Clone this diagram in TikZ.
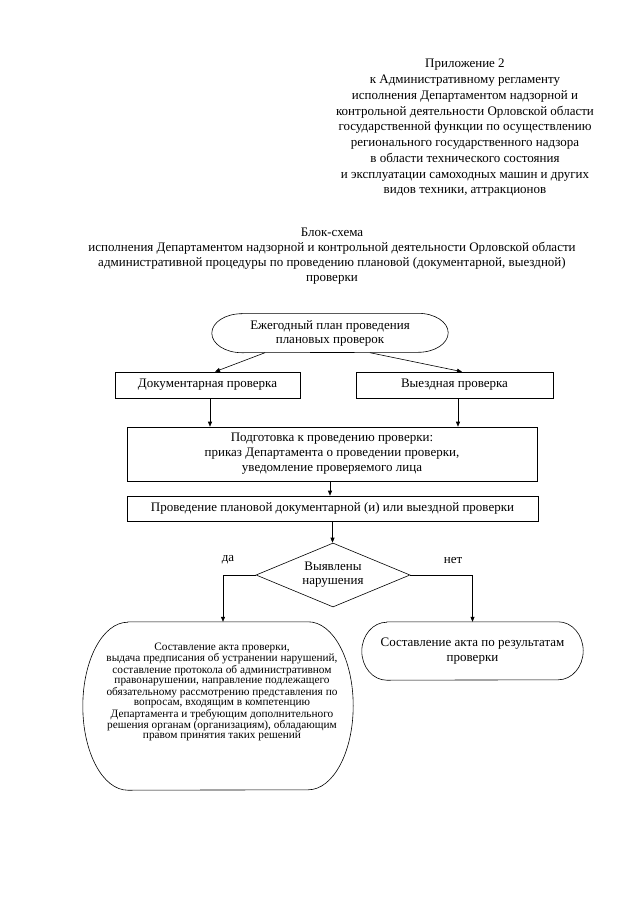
\documentclass[tikz,border=0pt]{standalone}
\usepackage{fontspec}
\setmainfont{Liberation Serif}
\usetikzlibrary{arrows.meta,shapes.geometric,calc}
\begin{document}
\begin{tikzpicture}[x=1pt,y=-1pt,
  lw/.style={line width=0.6pt},
  box/.style={draw, lw, inner sep=0pt, align=center, font=\fontsize{13}{15}\selectfont},
  plain/.style={inner sep=0pt, align=center, font=\fontsize{13}{15}\selectfont},
  shapebox/.style={inner sep=0pt, align=center},
  arr/.style={lw, -{Triangle[length=5pt,width=4pt]}},
  decision/.style={draw, lw, diamond, aspect=2.4, inner sep=0pt, minimum width=154pt, minimum height=64pt, align=center, font=\fontsize{13}{14}\selectfont}]
\useasboundingbox[fill=white] (0,0) rectangle (640,905);

% header
\node[plain, font=\fontsize{13}{15.75}\selectfont] (hdr) at (465,128) {Приложение 2\\
к Административному регламенту\\
исполнения Департаментом надзорной и\\
контрольной деятельности Орловской области\\
государственной функции по осуществлению\\
регионального государственного надзора\\
в области технического состояния\\
и эксплуатации самоходных машин и других\\
видов техники, аттракционов};

\node[plain] (title) at (332,256) {Блок-схема\\
исполнения Департаментом надзорной и контрольной деятельности Орловской области\\
административной процедуры по проведению плановой (документарной, выездной)\\
проверки};

% nodes
\node[shapebox, font=\fontsize{13}{14}\selectfont, minimum width=236pt, minimum height=39pt] (plan) at (330,333) {Ежегодный план проведения\\плановых проверок};
\draw[lw] ($(plan.north west)+(30,0)$) -- ($(plan.north east)+(-30,0)$)
  arc[start angle=90, end angle=-90, x radius=30pt, y radius=19.5pt]
  -- ($(plan.south west)+(30,0)$)
  arc[start angle=270, end angle=90, x radius=30pt, y radius=19.5pt] -- cycle;

\node[box, minimum width=185pt, minimum height=26pt] (doc) at (207.5,385) {Документарная проверка};
\node[box, minimum width=197pt, minimum height=26pt] (vyezd) at (454.5,385) {Выездная проверка};

\node[box, minimum width=410pt, minimum height=54pt] (podg) at (332,454) {Подготовка к проведению проверки:\\
приказ Департамента о проведении проверки,\\
уведомление проверяемого лица};

\node[box, minimum width=411pt, minimum height=25pt] (prov) at (332.5,508.5) {Проведение плановой документарной (и) или выездной проверки};

\node[decision] (dia) at (333,575) {Выявлены\\нарушения};

\node[plain] (yes) at (228,560) {да};
\node[plain] (no) at (453,560) {нет};

\node[shapebox, minimum width=270pt, minimum height=168pt] (big) at (218,706) {};
\draw[lw] ($(big.north west)+(45,0)$) -- ($(big.north east)+(-45,0)$)
  arc[start angle=90, end angle=-90, x radius=45pt, y radius=84pt]
  -- ($(big.south west)+(45,0)$)
  arc[start angle=270, end angle=90, x radius=45pt, y radius=84pt] -- cycle;
\node[shapebox, font=\fontsize{11.3}{10.4}\selectfont] (bigtxt) at (222,692) {Составление акта проверки,\\
выдача предписания об устранении нарушений,\\
составление протокола об административном\\
правонарушении, направление подлежащего\\
обязательному рассмотрению представления по\\
вопросам, входящим в компетенцию\\
Департамента и требующим дополнительного\\
решения органам (организациям), обладающим\\
правом принятия таких решений};

\node[shapebox, font=\fontsize{13}{15}\selectfont, minimum width=221pt, minimum height=58pt] (res) at (472.5,651) {Составление акта по результатам\\проверки};
\draw[lw] ($(res.north west)+(25,0)$) -- ($(res.north east)+(-25,0)$)
  arc[start angle=90, end angle=-90, x radius=25pt, y radius=29pt]
  -- ($(res.south west)+(25,0)$)
  arc[start angle=270, end angle=90, x radius=25pt, y radius=29pt] -- cycle;

% connectors
\draw[arr] ($(plan.south)+(-65,0)$) -- ($(doc.north)+(7.5,0)$);
\draw[arr] ($(plan.south)+(40,0)$) -- ($(vyezd.north)+(7.5,0)$);
\draw[arr] ($(doc.south)+(2.5,0)$) coordinate (d1) -- (d1 |- podg.north);
\draw[arr] ($(vyezd.south)+(3.5,0)$) coordinate (v1) -- (v1 |- podg.north);
\draw[arr] ($(podg.south)+(-2,0)$) coordinate (p1) -- (p1 |- prov.north);
\draw[arr] (prov.south) -- (prov.south |- dia.north);
\draw[arr] (dia.west) -| ($(big.north)+(5,0)$);
\draw[arr] (dia.east) -| (res.north);
\end{tikzpicture}
\end{document}
